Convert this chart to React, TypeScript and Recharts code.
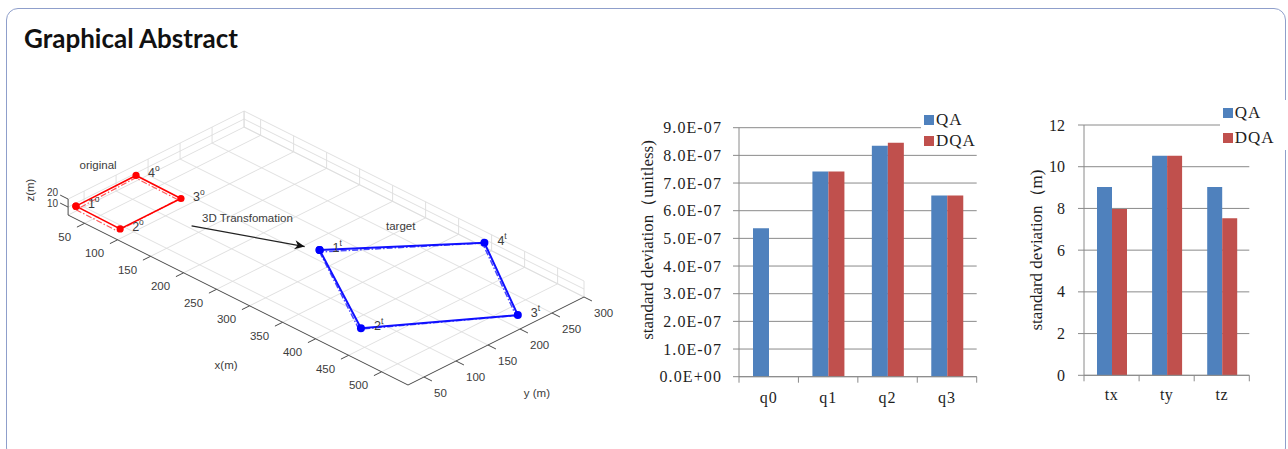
import React from 'react';
import {
  ScatterChart,
  Scatter,
  XAxis,
  YAxis,
  ReferenceLine,
  BarChart,
  Bar,
  CartesianGrid,
  Legend,
  Label,
} from 'recharts';

const SANS = '"Liberation Sans", Arial, Helvetica, sans-serif';
const SERIF = '"Liberation Serif", "Times New Roman", serif';

// ---------------- 3D scene (metres) ----------------
const X_RANGE = [25, 540];
const Y_RANGE = [25, 300];
const Z_RANGE = [0, 20];
const X_TICKS = [50, 100, 150, 200, 250, 300, 350, 400, 450, 500];
const Y_TICKS = [50, 100, 150, 200, 250, 300];
const Z_TICKS = [10, 20];

// control points of the original frame
const ORIGINAL_POINTS = [
  { id: '1', x: 32, y: 30, z: 12 },
  { id: '2', x: 100, y: 29, z: 12 },
  { id: '3', x: 100, y: 124, z: 12 },
  { id: '4', x: 31, y: 125, z: 12 },
];
// same points as recovered by the estimate (dash-dot)
const ORIGINAL_ESTIMATE = [
  { id: '1', x: 35, y: 27, z: 10 },
  { id: '2', x: 99, y: 26, z: 10 },
  { id: '3', x: 98, y: 121, z: 11 },
  { id: '4', x: 33, y: 122, z: 11 },
];
// control points after the transformation
const TARGET_POINTS = [
  { id: '1', x: 278, y: 157, z: 8 },
  { id: '2', x: 428, y: 67, z: 8 },
  { id: '3', x: 527, y: 210, z: 8 },
  { id: '4', x: 392, y: 297, z: 8 },
];
const TARGET_ESTIMATE = [
  { id: '1', x: 280, y: 155, z: 7 },
  { id: '2', x: 427, y: 65, z: 7 },
  { id: '3', x: 526, y: 208, z: 8 },
  { id: '4', x: 391, y: 295, z: 8 },
];

// annotation anchors in scene coordinates
const ARROW_FROM = { x: 135, y: 104.5, z: 0 };
const ARROW_TO = { x: 252, y: 160.5, z: 0 };
const SCENE_TEXT = [
  { text: 'original', x: -14, y: 112, z: 12, anchor: 'middle' },
  { text: 'target', x: 303, y: 258, z: 8, anchor: 'middle' },
  { text: '3D Transfomation', x: 131, y: 125, z: 0, anchor: 'start' },
  { text: 'x(m)', x: 372, y: -86, z: 0, anchor: 'middle' },
  { text: 'y (m)', x: 650, y: 113, z: 0, anchor: 'middle' },
  { text: 'z(m)', x: -42, y: 34, z: 0, anchor: 'middle', rotate: -90 },
];

// ---------------- bar charts ----------------
const SERIES_ORDER = ['QA', 'DQA'];

const Q_CATEGORIES = ['q0', 'q1', 'q2', 'q3'];
const Q_QA = [5.37e-7, 7.42e-7, 8.35e-7, 6.55e-7];
const Q_DQA = [null, 7.42e-7, 8.46e-7, 6.55e-7];
const Q_TICKS = [0, 1e-7, 2e-7, 3e-7, 4e-7, 5e-7, 6e-7, 7e-7, 8e-7, 9e-7];

const T_CATEGORIES = ['tx', 'ty', 'tz'];
const T_QA = [9.03, 10.52, 9.03];
const T_DQA = [7.97, 10.52, 7.53];
const T_TICKS = [0, 2, 4, 6, 8, 10, 12];

const QA_COLOR = '#4F81BD';
const DQA_COLOR = '#C0504D';
const GRID_GRAY = '#8a8a8a';
const TEXT_DARK = '#1e1e1e';

// ---------------- projection ----------------
const SCENE_W = 620;
const SCENE_H = 449;
const VIEW = { ox: 35.6, oy: 214.8, exX: 0.66, exY: 0.33, eyX: 0.64, eyY: -0.32, ez: 0.8 };
const project = (x: number, y: number, z: number) => ({
  sx: VIEW.ox + VIEW.exX * x + VIEW.eyX * y,
  sy: VIEW.oy + VIEW.exY * x + VIEW.eyY * y - VIEW.ez * z,
});
type P3 = [number, number, number];
const seg = (a: P3, b: P3) => {
  const p = project(a[0], a[1], a[2]);
  const q = project(b[0], b[1], b[2]);
  return [
    { x: p.sx, y: p.sy },
    { x: q.sx, y: q.sy },
  ];
};

const [x0, x1] = X_RANGE;
const [y0, y1] = Y_RANGE;
const [z0, z1] = Z_RANGE;

const GRID_SEGS: [P3, P3][] = [
  // floor
  ...X_TICKS.map((x) => [[x, y0, z0], [x, y1, z0]] as [P3, P3]),
  ...Y_TICKS.map((y) => [[x0, y, z0], [x1, y, z0]] as [P3, P3]),
  // left wall
  ...Z_TICKS.map((z) => [[x0, y0, z], [x0, y1, z]] as [P3, P3]),
  ...Y_TICKS.map((y) => [[x0, y, z0], [x0, y, z1]] as [P3, P3]),
  // back wall
  ...Z_TICKS.map((z) => [[x0, y1, z], [x1, y1, z]] as [P3, P3]),
  ...X_TICKS.map((x) => [[x, y1, z0], [x, y1, z1]] as [P3, P3]),
  // wall edges
  [[x0, y0, z0], [x0, y1, z0]],
  [[x0, y1, z0], [x1, y1, z0]],
  [[x0, y1, z0], [x0, y1, z1]],
  [[x1, y1, z0], [x1, y1, z1]],
];

const AXIS_SEGS: [P3, P3][] = [
  [[x0, y0, z0], [x1, y0, z0]],
  [[x1, y0, z0], [x1, y1, z0]],
  [[x0, y0, z0], [x0, y0, z1]],
  ...X_TICKS.map((x) => [[x, y0, z0], [x, y0 - 12, z0]] as [P3, P3]),
  ...Y_TICKS.map((y) => [[x1, y, z0], [x1 + 12, y, z0]] as [P3, P3]),
  ...Z_TICKS.map((z) => [[x0, y0, z], [x0 - 12, y0, z]] as [P3, P3]),
];

type Pt = { id: string; x: number; y: number; z: number };
const loop = (pts: Pt[]) =>
  [...pts, pts[0]].map((p) => ({ ...project(p.x, p.y, p.z), id: p.id }));

// z labels sit close together; the upper one is nudged up a little more
const Z_LABEL_DY: Record<number, number> = { 10: -4, 20: -7 };

const tickLabels = [
  ...X_TICKS.map((x) => ({ ...project(x, y0, z0), text: String(x), anchor: 'end', dx: -13.5, dy: 13.5 })),
  ...Y_TICKS.map((y) => ({ ...project(x1, y, z0), text: String(y), anchor: 'start', dx: 10, dy: 15.5 })),
  ...Z_TICKS.map((z) => ({ ...project(x0, y0, z), text: String(z), anchor: 'end', dx: -10, dy: Z_LABEL_DY[z] ?? -5, size: 10 })),
];
const pointLabels = [
  ...ORIGINAL_POINTS.map((p) => ({ ...project(p.x, p.y, p.z), text: p.id, sup: 'o', anchor: 'start', dx: 12, dy: -2, size: 12.5 })),
  ...TARGET_POINTS.map((p) => ({ ...project(p.x, p.y, p.z), text: p.id, sup: 't', anchor: 'start', dx: 13, dy: -2, size: 12.5 })),
];
const sceneText = SCENE_TEXT.map((t) => ({ ...project(t.x, t.y, t.z), ...t }));

const arrowStart = project(ARROW_FROM.x, ARROW_FROM.y, ARROW_FROM.z);
const arrowEnd = project(ARROW_TO.x, ARROW_TO.y, ARROW_TO.z);
const arrowAngle = (Math.atan2(arrowEnd.sy - arrowStart.sy, arrowEnd.sx - arrowStart.sx) * 180) / Math.PI;

const renderText = (p: any) => {
  const d = p.payload;
  const x = p.cx + (d.dx || 0);
  const y = p.cy + (d.dy || 0);
  return (
    <text
      x={x}
      y={y}
      textAnchor={d.anchor || 'middle'}
      dominantBaseline="central"
      fontFamily={SANS}
      fontSize={d.size || 11.5}
      fill="#3c3c3c"
      transform={d.rotate ? `rotate(${d.rotate} ${x} ${y})` : undefined}
    >
      {d.text}
      {d.sup ? (
        <tspan dy={-5} fontSize={8.5}>
          {d.sup}
        </tspan>
      ) : null}
    </text>
  );
};

const dot = (color: string, r: number) => (p: any) => <circle cx={p.cx} cy={p.cy} r={r} fill={color} />;
const noDot = () => <g />;
const arrowHead = (p: any) => (
  <path
    d="M0,0 L-10,-4.5 L-7,0 L-10,4.5 Z"
    fill="#111"
    transform={`translate(${p.cx} ${p.cy}) rotate(${arrowAngle})`}
  />
);

function Scene3D() {
  return (
    <ScatterChart width={SCENE_W} height={SCENE_H} margin={{ top: 0, right: 0, bottom: 0, left: 0 }}>
      <XAxis type="number" dataKey="sx" domain={[0, SCENE_W]} hide />
      <YAxis type="number" dataKey="sy" domain={[0, SCENE_H]} reversed hide />
      {GRID_SEGS.map((s, i) => (
        <ReferenceLine key={`g${i}`} segment={seg(s[0], s[1])} stroke="#dcdcdc" strokeWidth={0.9} ifOverflow="visible" />
      ))}
      {AXIS_SEGS.map((s, i) => (
        <ReferenceLine key={`a${i}`} segment={seg(s[0], s[1])} stroke="#4a4a4a" strokeWidth={1} ifOverflow="visible" />
      ))}
      <ReferenceLine
        segment={[
          { x: arrowStart.sx, y: arrowStart.sy },
          { x: arrowEnd.sx, y: arrowEnd.sy },
        ]}
        stroke="#222"
        strokeWidth={1.2}
        ifOverflow="visible"
      />
      <Scatter data={[arrowEnd]} shape={arrowHead} isAnimationActive={false} />
      <Scatter
        data={loop(ORIGINAL_ESTIMATE)}
        fill="#ff5a5a"
        line={{ stroke: '#ff5a5a', strokeWidth: 1.2, strokeDasharray: '6 2 1.5 2' }}
        shape={noDot}
        isAnimationActive={false}
      />
      <Scatter
        data={loop(ORIGINAL_POINTS)}
        fill="#ff0000"
        line={{ stroke: '#ff0000', strokeWidth: 1.6 }}
        shape={dot('#ff0000', 3.6)}
        isAnimationActive={false}
      />
      <Scatter
        data={loop(TARGET_ESTIMATE)}
        fill="#4b4bff"
        line={{ stroke: '#4b4bff', strokeWidth: 1.5, strokeDasharray: '6 2 1.5 2' }}
        shape={noDot}
        isAnimationActive={false}
      />
      <Scatter
        data={loop(TARGET_POINTS)}
        fill="#1010ff"
        line={{ stroke: '#1010ff', strokeWidth: 2 }}
        shape={dot('#0000ff', 4)}
        isAnimationActive={false}
      />
      <Scatter data={tickLabels} shape={renderText} isAnimationActive={false} />
      <Scatter data={pointLabels} shape={renderText} isAnimationActive={false} />
      <Scatter data={sceneText} shape={renderText} isAnimationActive={false} />
    </ScatterChart>
  );
}

// ---------------- helpers for bar charts ----------------
const sci = (v: number) => {
  if (v === 0) return '0.0E+00';
  const e = Math.floor(Math.log10(Math.abs(v)) + 1e-9);
  const m = v / Math.pow(10, e);
  return `${m.toFixed(1)}E${e < 0 ? '-' : '+'}${String(Math.abs(e)).padStart(2, '0')}`;
};

const categoryTick = (band: number, margin: number, count: number, spacing: number) => (p: any) => {
  const axisY = p.y - margin;
  const left = p.x - band / 2;
  return (
    <g>
      <line x1={left} x2={left} y1={axisY} y2={axisY + 6} stroke={GRID_GRAY} />
      {p.index === count - 1 ? (
        <line x1={left + band} x2={left + band} y1={axisY} y2={axisY + 6} stroke={GRID_GRAY} />
      ) : null}
      <text
        x={p.x}
        y={p.y}
        dy="0.71em"
        textAnchor="middle"
        fontFamily={SERIF}
        fontSize={16}
        letterSpacing={spacing}
        fill={TEXT_DARK}
      >
        {p.payload.value}
      </text>
    </g>
  );
};

const valueTick = (fmt: (v: number) => string, spacing: number) => (p: any) => (
  <text
    x={p.x}
    y={p.y}
    dy="0.35em"
    textAnchor="end"
    fontFamily={SERIF}
    fontSize={16}
    letterSpacing={spacing}
    fill={TEXT_DARK}
  >
    {fmt(p.payload.value)}
  </text>
);

const legendContent = (rowH: number, padLeft: number) => (props: any) => {
  const items = [...(props.payload || [])].sort(
    (a: any, b: any) => SERIES_ORDER.indexOf(a.value) - SERIES_ORDER.indexOf(b.value)
  );
  return (
    <div style={{ background: '#fff', paddingLeft: padLeft }}>
      {items.map((e: any) => (
        <div
          key={e.value}
          style={{
            display: 'flex',
            alignItems: 'center',
            height: rowH,
            fontFamily: SERIF,
            fontSize: 17,
            letterSpacing: 1,
            color: TEXT_DARK,
          }}
        >
          <span style={{ display: 'inline-block', width: 10, height: 10, background: e.color, marginRight: 2 }} />
          {e.value}
        </div>
      ))}
    </div>
  );
};

const axisTitle = (text: string, cx: number, cy: number) => () => (
  <text
    transform={`translate(${cx} ${cy}) rotate(-90)`}
    textAnchor="middle"
    dominantBaseline="central"
    fontFamily={SERIF}
    fontSize={17}
    fill={TEXT_DARK}
  >
    {text}
  </text>
);

function QuaternionChart() {
  const data = Q_CATEGORIES.map((c, i) => ({ cat: c, qa: Q_QA[i], dqa: Q_DQA[i] }));
  const W = 370;
  const margin = { top: 27.7, right: 13.3, bottom: 13.3, left: 0 };
  const yw = 119;
  const band = (W - yw - margin.right) / Q_CATEGORIES.length;
  return (
    <BarChart width={W} height={320} data={data} margin={margin} barGap={0}>
      <CartesianGrid vertical={false} stroke={GRID_GRAY} />
      <XAxis
        dataKey="cat"
        height={30}
        axisLine={{ stroke: GRID_GRAY }}
        tickLine={false}
        tickSize={0}
        tickMargin={15}
        interval={0}
        tick={categoryTick(band, 15, Q_CATEGORIES.length, 1)}
      />
      <YAxis
        width={yw}
        domain={[0, 9e-7]}
        ticks={Q_TICKS}
        interval={0}
        axisLine={{ stroke: GRID_GRAY }}
        tickLine={{ stroke: GRID_GRAY }}
        tickSize={6}
        tickMargin={11}
        tick={valueTick(sci, 1.1)}
      >
        <Label content={axisTitle('standard deviation（unitless)', 27, 140)} />
      </YAxis>
      <Bar dataKey="qa" name="QA" fill={QA_COLOR} barSize={16} isAnimationActive={false} />
      <Bar dataKey="dqa" name="DQA" fill={DQA_COLOR} barSize={16} isAnimationActive={false} />
      <Legend
        layout="vertical"
        align="center"
        verticalAlign="middle"
        wrapperStyle={{ left: 301, top: 9.5, width: 69 }}
        content={legendContent(21, 3)}
      />
    </BarChart>
  );
}

function TranslationChart() {
  const data = T_CATEGORIES.map((c, i) => ({ cat: c, qa: T_QA[i], dqa: T_DQA[i] }));
  const W = 288;
  const margin = { top: 25, right: 38.7, bottom: 14.7, left: 0 };
  const yw = 84;
  const band = (W - yw - margin.right) / T_CATEGORIES.length;
  return (
    <BarChart width={W} height={320} data={data} margin={margin} barGap={0}>
      <CartesianGrid vertical={false} stroke={GRID_GRAY} />
      <XAxis
        dataKey="cat"
        height={30}
        axisLine={{ stroke: GRID_GRAY }}
        tickLine={false}
        tickSize={0}
        tickMargin={13.3}
        interval={0}
        tick={categoryTick(band, 13.3, T_CATEGORIES.length, 0.5)}
      />
      <YAxis
        width={yw}
        domain={[0, 12]}
        ticks={T_TICKS}
        interval={0}
        axisLine={{ stroke: GRID_GRAY }}
        tickLine={{ stroke: GRID_GRAY }}
        tickSize={6}
        tickMargin={13}
        tick={valueTick((v) => String(v), 0)}
      >
        <Label content={axisTitle('standard deviation（m)', 36.7, 150)} />
      </YAxis>
      <Bar dataKey="qa" name="QA" fill={QA_COLOR} barSize={15} isAnimationActive={false} />
      <Bar dataKey="dqa" name="DQA" fill={DQA_COLOR} barSize={15} isAnimationActive={false} />
      <Legend
        layout="vertical"
        align="center"
        verticalAlign="middle"
        wrapperStyle={{ left: 220, top: 0.3, width: 68 }}
        content={legendContent(25, 2.7)}
      />
    </BarChart>
  );
}

export default function App() {
  return (
    <div
      style={{
        position: 'absolute',
        left: 0,
        top: 0,
        width: 1288,
        height: 449,
        overflow: 'hidden',
        background: '#fff',
      }}
    >
      <div
        style={{
          position: 'absolute',
          left: 6,
          top: 8,
          width: 1280,
          height: 452,
          border: '1.5px solid #8f9fcb',
          borderRadius: 12,
          boxSizing: 'border-box',
        }}
      />
      <svg style={{ position: 'absolute', left: 0, top: 0 }} width={400} height={70}>
        <text x={24} y={48} fontFamily="Lato, 'Open Sans', sans-serif" fontWeight={700} fontSize={26} fill="#111">
          Graphical Abstract
        </text>
      </svg>
      <div style={{ position: 'absolute', left: 0, top: 0 }}>
        <Scene3D />
      </div>
      <div style={{ position: 'absolute', left: 620, top: 100 }}>
        <QuaternionChart />
      </div>
      <div style={{ position: 'absolute', left: 1000, top: 100 }}>
        <TranslationChart />
      </div>
    </div>
  );
}
